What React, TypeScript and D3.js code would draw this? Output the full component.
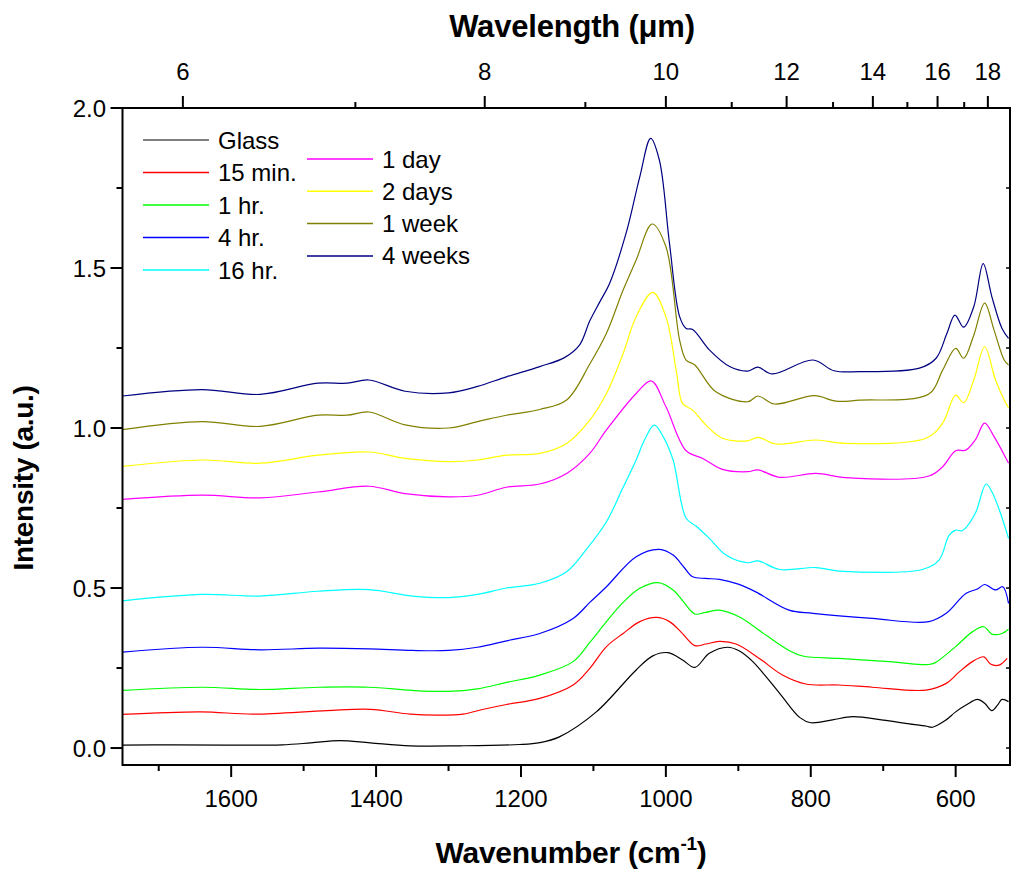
import React from "react";
import * as d3 from "d3";

// Infrared spectra of glass after increasing exposure times (offset stacked)
type Pt = [number, number];

const glass: Pt[] = [
  [1750, 0.009], [1680, 0.010], [1606, 0.009], [1530, 0.010], [1490, 0.016], [1450, 0.023], [1408, 0.016],
  [1353, 0.007], [1284, 0.007], [1202, 0.011], [1174, 0.017], [1147, 0.035], [1096, 0.113],
  [1041, 0.244], [1018, 0.288], [997, 0.298], [977, 0.275], [960, 0.252], [940, 0.296],
  [915, 0.315], [899, 0.304], [880, 0.27], [843, 0.171], [815, 0.095], [800, 0.079],
  [770, 0.088], [742, 0.098], [700, 0.087], [669, 0.077], [640, 0.068], [632, 0.065],
  [615, 0.085], [600, 0.113], [585, 0.135], [570, 0.152], [560, 0.14], [550, 0.117],
  [542, 0.135], [536, 0.152], [527, 0.145],
];

const min15: Pt[] = [
  [1750, 0.105], [1642, 0.113], [1569, 0.106], [1468, 0.117], [1408, 0.121], [1353, 0.106],
  [1316, 0.103], [1280, 0.106], [1250, 0.122], [1220, 0.136], [1174, 0.155], [1128, 0.197],
  [1105, 0.249], [1082, 0.317], [1059, 0.358], [1036, 0.395], [1013, 0.408], [995, 0.395],
  [978, 0.36], [960, 0.32], [945, 0.325], [926, 0.333], [903, 0.325], [871, 0.28],
  [839, 0.228], [807, 0.2], [761, 0.197], [715, 0.19], [641, 0.181], [613, 0.202],
  [595, 0.238], [577, 0.27], [561, 0.285], [552, 0.2625], [540, 0.259], [529, 0.28],
];

const hr1: Pt[] = [
  [1750, 0.18], [1640, 0.19], [1560, 0.183], [1480, 0.19], [1410, 0.19], [1350, 0.18],
  [1300, 0.177], [1260, 0.185], [1220, 0.205], [1174, 0.228], [1128, 0.27], [1105, 0.33],
  [1082, 0.395], [1059, 0.455], [1036, 0.499], [1011, 0.517], [990, 0.494], [975, 0.455],
  [960, 0.419], [945, 0.424], [926, 0.431], [899, 0.41], [862, 0.353], [830, 0.305],
  [811, 0.2875], [761, 0.28], [692, 0.27], [637, 0.261], [628, 0.267], [600, 0.317],
  [577, 0.363], [561, 0.379], [550, 0.356], [536, 0.358], [527, 0.371],
];

const hr4: Pt[] = [
  [1750, 0.3], [1640, 0.315], [1560, 0.307], [1480, 0.312], [1410, 0.31], [1350, 0.305],
  [1300, 0.305], [1260, 0.315], [1220, 0.335], [1174, 0.358], [1128, 0.405], [1105, 0.455],
  [1082, 0.504], [1041, 0.598], [1009, 0.621], [990, 0.603], [975, 0.565], [963, 0.535],
  [945, 0.53], [926, 0.527], [900, 0.512], [876, 0.488], [830, 0.431], [797, 0.421],
  [715, 0.405], [637, 0.395], [613, 0.421], [586, 0.483], [570, 0.497], [560, 0.511],
  [545, 0.494], [535, 0.504], [527, 0.452],
];

const hr16: Pt[] = [
  [1750, 0.46], [1640, 0.48], [1560, 0.475], [1480, 0.49], [1410, 0.495], [1350, 0.475],
  [1300, 0.47], [1260, 0.48], [1220, 0.5], [1174, 0.515], [1137, 0.551], [1110, 0.62],
  [1082, 0.707], [1060, 0.81], [1041, 0.9], [1030, 0.96], [1016, 1.009], [1003, 0.97],
  [990, 0.9], [972, 0.718], [958, 0.693], [940, 0.655], [917, 0.603], [887, 0.579],
  [873, 0.585], [843, 0.558], [793, 0.564], [761, 0.553], [646, 0.558], [623, 0.5875],
  [609, 0.665], [600, 0.681], [591, 0.679], [573, 0.733], [558, 0.825], [550, 0.801],
  [538, 0.733], [527, 0.655],
];

const day1: Pt[] = [
  [1750, 0.777], [1640, 0.79], [1560, 0.782], [1480, 0.8], [1410, 0.818], [1360, 0.795],
  [1300, 0.785], [1260, 0.79], [1220, 0.815], [1174, 0.825], [1137, 0.858], [1105, 0.921],
  [1082, 0.994], [1041, 1.108], [1020, 1.147], [1000, 1.067], [972, 0.929], [949, 0.905],
  [922, 0.871], [887, 0.8635], [873, 0.869], [843, 0.846], [793, 0.858], [752, 0.845],
  [637, 0.85], [618, 0.879], [600, 0.929], [586, 0.931], [573, 0.9625], [560, 1.015],
  [547, 0.973], [527, 0.89],
];

const days2: Pt[] = [
  [1750, 0.88], [1640, 0.9], [1560, 0.89], [1480, 0.915], [1410, 0.925], [1360, 0.905],
  [1300, 0.895], [1260, 0.9], [1220, 0.915], [1174, 0.921], [1137, 0.952], [1105, 1.025],
  [1082, 1.108], [1059, 1.233], [1041, 1.348], [1018, 1.424], [1000, 1.348], [985, 1.17],
  [977, 1.077], [963, 1.056], [945, 1.01], [922, 0.968], [887, 0.96], [873, 0.971],
  [848, 0.95], [793, 0.9625], [752, 0.952], [641, 0.968], [618, 1.015], [600, 1.103],
  [589, 1.079], [575, 1.15], [560, 1.254], [545, 1.15], [533, 1.0875], [527, 1.0625],
];

const week1: Pt[] = [
  [1750, 0.995], [1640, 1.02], [1560, 1.005], [1480, 1.04], [1440, 1.04], [1410, 1.05],
  [1360, 1.01], [1300, 1.0], [1260, 1.02], [1220, 1.04], [1174, 1.058], [1137, 1.0875],
  [1105, 1.2], [1082, 1.296], [1059, 1.431], [1041, 1.525], [1019, 1.6375], [1000, 1.567],
  [981, 1.275], [972, 1.2125], [960, 1.197], [931, 1.113], [887, 1.082], [873, 1.1],
  [850, 1.075], [795, 1.101], [765, 1.084], [733, 1.087], [637, 1.106], [618, 1.181],
  [600, 1.249], [589, 1.218], [575, 1.29], [560, 1.39], [547, 1.306], [533, 1.2125],
  [527, 1.197],
];

const weeks4: Pt[] = [
  [1750, 1.1], [1640, 1.12], [1560, 1.105], [1480, 1.14], [1440, 1.14], [1410, 1.15],
  [1360, 1.115], [1300, 1.11], [1260, 1.13], [1220, 1.16], [1174, 1.192], [1140, 1.22],
  [1119, 1.26], [1105, 1.335], [1091, 1.395], [1078, 1.45], [1055, 1.608], [1036, 1.785],
  [1021, 1.905], [1009, 1.8375], [995, 1.577], [981, 1.348], [972, 1.311], [963, 1.308],
  [940, 1.244], [912, 1.192], [887, 1.178], [873, 1.19], [853, 1.169], [797, 1.2125],
  [768, 1.179], [733, 1.176], [650, 1.187], [627, 1.218], [612, 1.296], [601, 1.353],
  [589, 1.315], [575, 1.379], [562, 1.514], [550, 1.41], [536, 1.311], [527, 1.28],
];

const seriesNames = ["Glass", "15 min.", "1 hr.", "4 hr.", "16 hr.", "1 day", "2 days", "1 week", "4 weeks"];
const seriesColors = ["#000000", "#ff0000", "#00ff00", "#0000ff", "#00ffff", "#ff00ff", "#ffff00", "#808000", "#000080"];
const seriesData = [glass, min15, hr1, hr4, hr16, day1, days2, week1, weeks4];

const wavenumberTicks = [1600, 1400, 1200, 1000, 800, 600];
const wavenumberMinor = [1700, 1500, 1300, 1100, 900, 700];
const wavelengthTicks = [6, 8, 10, 12, 14, 16, 18];
const wavelengthMinor = [7, 9, 11, 13, 15, 17];
const intensityTicks = [0, 0.5, 1.0, 1.5, 2.0];
const intensityMinor = [0.25, 0.75, 1.25, 1.75];

const W = 1013;
const H = 879;
const left = 122.5;
const right = 1010;
const top = 108;
const bottom = 765;
const FONT = "'Liberation Sans', Arial, sans-serif";

export default function App() {
  const x = d3.scaleLinear().domain([1750, 525]).range([left, right]);
  const y = d3.scaleLinear().domain([-0.053, 2.0]).range([bottom, top]);
  const line = d3
    .line<Pt>()
    .x((d) => x(d[0]))
    .y((d) => y(d[1]))
    .curve(d3.curveCatmullRom.alpha(0.5));

  const legendCol1 = seriesNames.slice(0, 5).map((n, i) => ({ i, n, lx: 143, ly: 140 + i * 32.5 }));
  const legendCol2 = seriesNames.slice(5).map((n, k) => ({ i: k + 5, n, lx: 307, ly: 159 + k * 32.3 }));
  const legend = [...legendCol1, ...legendCol2];

  return (
    <svg width={W} height={H} style={{ position: "absolute", left: 0, top: 0, background: "#fff" }} fontFamily={FONT}>
      <rect x={0} y={0} width={W} height={H} fill="#fff" />
      <defs>
        <clipPath id="plot-clip">
          <rect x={left} y={top} width={right - left} height={bottom - top} />
        </clipPath>
      </defs>

      {/* spectra */}
      <g clipPath="url(#plot-clip)">
        {seriesData.map((d, i) => (
          <path key={i} d={line(d) || ""} fill="none" stroke={seriesColors[i]} strokeWidth={1.2} />
        ))}
      </g>

      {/* frame */}
      <rect x={left} y={top} width={right - left} height={bottom - top} fill="none" stroke="#000" strokeWidth={2} />

      {/* bottom axis */}
      {wavenumberTicks.map((t) => (
        <g key={"b" + t}>
          <line x1={x(t)} x2={x(t)} y1={bottom} y2={bottom + 12} stroke="#000" strokeWidth={2} />
          <text x={x(t)} y={807} fontSize={24} textAnchor="middle">{t}</text>
        </g>
      ))}
      {wavenumberMinor.map((t) => (
        <line key={"bm" + t} x1={x(t)} x2={x(t)} y1={bottom} y2={bottom + 6} stroke="#000" strokeWidth={2} />
      ))}

      {/* top axis: wavelength in micrometres */}
      {wavelengthTicks.map((t) => (
        <g key={"t" + t}>
          <line x1={x(10000 / t)} x2={x(10000 / t)} y1={top} y2={top - 12} stroke="#000" strokeWidth={2} />
          <text x={x(10000 / t)} y={79.5} fontSize={24} textAnchor="middle">{t}</text>
        </g>
      ))}
      {wavelengthMinor.map((t) => (
        <line key={"tm" + t} x1={x(10000 / t)} x2={x(10000 / t)} y1={top} y2={top - 6} stroke="#000" strokeWidth={2} />
      ))}

      {/* left axis */}
      {intensityTicks.map((t) => (
        <g key={"l" + t}>
          <line x1={left} x2={left - 12} y1={y(t)} y2={y(t)} stroke="#000" strokeWidth={2} />
          <text x={106} y={y(t) + 8.5} fontSize={24} textAnchor="end">{t.toFixed(1)}</text>
        </g>
      ))}
      {intensityMinor.map((t) => (
        <line key={"lm" + t} x1={left} x2={left - 6} y1={y(t)} y2={y(t)} stroke="#000" strokeWidth={2} />
      ))}

      {/* right axis, inward ticks */}
      {[...intensityTicks, ...intensityMinor].map((t) => (
        <line key={"r" + t} x1={right} x2={right - 4} y1={y(t)} y2={y(t)} stroke="#000" strokeWidth={1.5} />
      ))}

      {/* axis titles */}
      <text x={572} y={37} fontSize={31} fontWeight="bold" textAnchor="middle" letterSpacing={-0.2}>
        Wavelength (μm)
      </text>
      <text x={571} y={863} fontSize={30} fontWeight="bold" textAnchor="middle" letterSpacing={-0.3}>
        Wavenumber (cm
        <tspan fontSize={19} dy={-13}>-1</tspan>
        <tspan dy={13}>)</tspan>
      </text>
      <text
        transform={`translate(33,${478}) rotate(-90)`}
        fontSize={28}
        fontWeight="bold"
        textAnchor="middle"
        letterSpacing={-0.3}
      >
        Intensity (a.u.)
      </text>

      {/* legend */}
      {legend.map((l) => (
        <g key={"lg" + l.i}>
          <line x1={l.lx} x2={l.lx + 66} y1={l.ly} y2={l.ly} stroke={seriesColors[l.i]} strokeWidth={l.i === 0 ? 1 : 1.5} />
          <text x={l.lx + 75} y={l.ly + 8.5} fontSize={24}>{l.n}</text>
        </g>
      ))}
    </svg>
  );
}
